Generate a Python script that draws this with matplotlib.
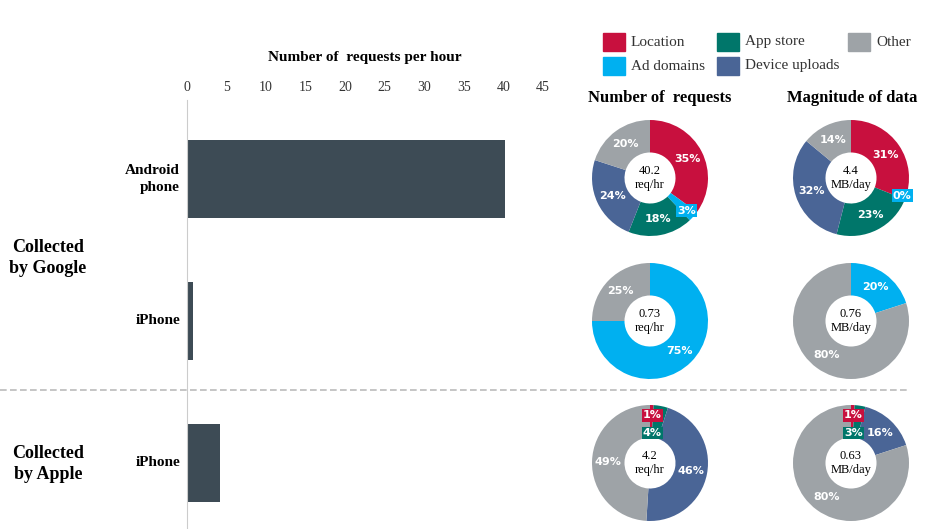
import matplotlib.pyplot as plt
import numpy as np

W, H = 940, 529

categories = ['Location', 'Ad domains', 'App store', 'Device uploads', 'Other']
colors = ['#c8103e', '#00b0f0', '#00766a', '#4a6596', '#9ea3a7']

bar_labels = ['Android\nphone', 'iPhone', 'iPhone']
bar_values = [40.2, 0.73, 4.2]
bar_ticks = [0, 5, 10, 15, 20, 25, 30, 35, 40, 45]

# shares in category order: Location, Ad, App store, Device, Other
req_shares = [[35, 3, 18, 24, 20], [0, 75, 0, 0, 25], [1, 0, 4, 46, 49]]
mag_shares = [[31, 0, 23, 32, 14], [0, 20, 0, 0, 80], [1, 0, 3, 16, 80]]
req_centers = ['40.2\nreq/hr', '0.73\nreq/hr', '4.2\nreq/hr']
mag_centers = ['4.4\nMB/day', '0.76\nMB/day', '0.63\nMB/day']
# which zero slices still get a label (0% ad domains on first magnitude donut)
show_zero = {(1, 0, 1)}

serif = 'Liberation Serif'
fig = plt.figure(figsize=(W / 100, H / 100), dpi=100)


def px_axes(x0, y0, x1, y1):
    return fig.add_axes([x0 / W, 1 - y1 / H, (x1 - x0) / W, (y1 - y0) / H])


# bar chart
ax = px_axes(187, 100, 543, 529)
ys = [179, 321, 463]
ax.barh(ys, bar_values, height=78, color='#3d4b55')
ax.set_xlim(0, 45)
ax.set_ylim(529, 100)
ax.xaxis.tick_top()
ax.set_xticks(bar_ticks)
ax.tick_params(axis='x', length=0, labelsize=10, labelcolor='#333333', pad=4)
for lab in ax.get_xticklabels():
    lab.set_fontfamily(serif)
ax.set_yticks([])
for s in ['top', 'right', 'bottom']:
    ax.spines[s].set_visible(False)
ax.spines['left'].set_color('#cccccc')
for y, lab in zip(ys, bar_labels):
    fig.text(180 / W, 1 - y / H, lab, ha='right', va='center', fontsize=11,
             fontweight='bold', fontfamily=serif, linespacing=1.3)
fig.text(365 / W, 1 - 58 / H, 'Number of  requests per hour', ha='center',
         va='center', fontsize=11, fontweight='bold', fontfamily=serif)
fig.text(48 / W, 1 - 258 / H, 'Collected\nby Google', ha='center', va='center',
         fontsize=13, fontweight='bold', fontfamily=serif, linespacing=1.3)
fig.text(48 / W, 1 - 464 / H, 'Collected\nby Apple', ha='center', va='center',
         fontsize=13, fontweight='bold', fontfamily=serif, linespacing=1.3)

# dashed separator
fig.add_artist(plt.Line2D([0, 910 / W], [1 - 390 / H] * 2, color='#bbbbbb',
                          ls=(0, (4, 2)), lw=1.2))

# legend
leg = [(603, 42, 0), (717, 42, 2), (848, 42, 4), (603, 66, 1), (717, 66, 3)]
for x, y, i in leg:
    fig.add_artist(plt.Rectangle((x / W, 1 - (y + 9) / H), 22 / W, 18 / H,
                                 color=colors[i], transform=fig.transFigure))
    fig.text((x + 28) / W, 1 - y / H, categories[i], ha='left', va='center',
             fontsize=11, fontfamily=serif, color='#333333')

fig.text(660 / W, 1 - 98 / H, 'Number of  requests', ha='center', va='center',
         fontsize=12, fontweight='bold', fontfamily=serif)
fig.text(852 / W, 1 - 98 / H, 'Magnitude of data', ha='center', va='center',
         fontsize=12, fontweight='bold', fontfamily=serif)


def donut(cx, cy, shares, center, col, row):
    r = 58
    a = px_axes(cx - r, cy - r, cx + r, cy + r)
    a.pie(shares, colors=colors, startangle=90, counterclock=False, radius=1,
          wedgeprops=dict(width=0.56, edgecolor='none'))
    a.set_xlim(-1, 1)
    a.set_ylim(-1, 1)
    a.text(0, 0, center, ha='center', va='center', fontsize=9,
           fontfamily=serif, linespacing=1.2)
    start = 90
    small_y = 0.82
    for i, v in enumerate(shares):
        if v == 0 and (col, row, i) not in show_zero:
            continue
        mid = np.deg2rad(start - v * 3.6 / 2)
        start -= v * 3.6
        if v < 6:
            if v == 0:
                x, y = np.cos(mid) * 0.82 + 0.12, np.sin(mid) * 0.82
            elif mid > np.deg2rad(60):
                x, y = 0.04, small_y
                small_y -= 0.3
            else:
                x, y = np.cos(mid) * 0.85, np.sin(mid) * 0.85
            a.text(x, y, f'{v}%', ha='center', va='center', fontsize=8,
                   fontweight='bold', color='white',
                   bbox=dict(boxstyle='square,pad=0.1', fc=colors[i], ec='none'))
        else:
            a.text(np.cos(mid) * 0.72, np.sin(mid) * 0.72, f'{v}%', ha='center',
                   va='center', fontsize=8, fontweight='bold', color='white')


rows = [178, 321, 463]
for row, cy in enumerate(rows):
    donut(650, cy, req_shares[row], req_centers[row], 0, row)
    donut(851, cy, mag_shares[row], mag_centers[row], 1, row)

fig.savefig('out.png', dpi=100)
